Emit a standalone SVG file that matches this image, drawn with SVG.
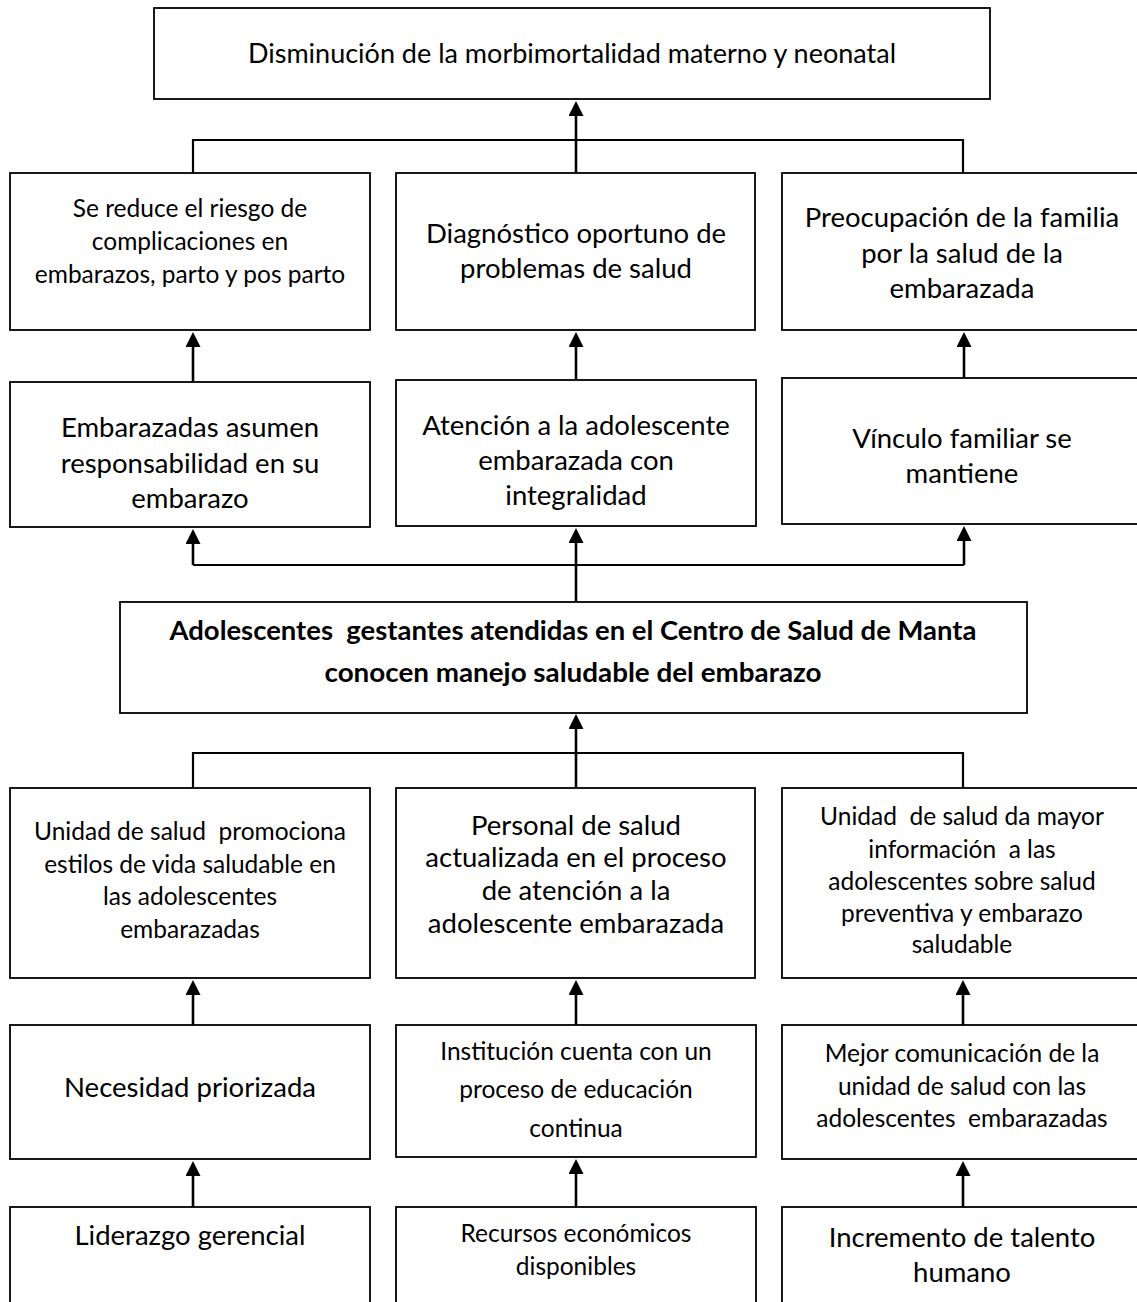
<svg xmlns="http://www.w3.org/2000/svg" width="1137" height="1302" viewBox="0 0 1137 1302">
<style>
.box{fill:#fff;stroke:#000;stroke-width:1.8}
.t{font-family:Lato,"Liberation Sans",sans-serif;fill:#000;text-anchor:middle;white-space:pre}
.s{font-size:24.5px}
.l{font-size:27.5px}
.top{font-size:27px}
.b{font-family:Lato,"Liberation Sans",sans-serif;font-weight:bold;font-size:26px;fill:#000;text-anchor:middle;white-space:pre}
.c{fill:none;stroke:#000;stroke-width:2.2}
.a{fill:none;stroke:#000;stroke-width:2.6;marker-end:url(#ah)}
</style>
<defs>
<marker id="ah" markerUnits="userSpaceOnUse" markerWidth="16" markerHeight="16" refX="0" refY="7.5" orient="auto">
<path d="M0,0 L15,7.5 L0,15 z" fill="#000"/>
</marker>
</defs>
<rect width="1137" height="1302" fill="#fff"/>
<g id="connectors">
<path class="c" d="M193,173 V140 H963 V173"/>
<line class="a" x1="576" y1="173" x2="576" y2="116"/>
<line class="a" x1="193" y1="382" x2="193" y2="347"/>
<line class="a" x1="576" y1="380" x2="576" y2="347"/>
<line class="a" x1="964" y1="378" x2="964" y2="347"/>
<path class="c" d="M193,565 H964"/>
<line class="a" x1="193" y1="565" x2="193" y2="544"/>
<line class="a" x1="964" y1="565" x2="964" y2="541"/>
<line class="a" x1="576" y1="602" x2="576" y2="543"/>
<path class="c" d="M193,788 V753 H963 V788"/>
<line class="a" x1="576" y1="788" x2="576" y2="729"/>
<line class="a" x1="193" y1="1025" x2="193" y2="995"/>
<line class="a" x1="576" y1="1025" x2="576" y2="995"/>
<line class="a" x1="963" y1="1025" x2="963" y2="995"/>
<line class="a" x1="193" y1="1207" x2="193" y2="1176"/>
<line class="a" x1="576" y1="1207" x2="576" y2="1174"/>
<line class="a" x1="963" y1="1207" x2="963" y2="1176"/>
</g>
<g id="n-top">
<rect class="box" x="154" y="8" width="836" height="91"/>
<text class="t top" x="572" y="63">Disminución de la morbimortalidad materno y neonatal</text>
</g>
<g id="n-r1l">
<rect class="box" x="10" y="173" width="360" height="157"/>
<text class="t s" x="190" y="217">Se reduce el riesgo de</text>
<text class="t s" x="190" y="250">complicaciones en</text>
<text class="t s" x="190" y="283">embarazos, parto y pos parto</text>
</g>
<g id="n-r1m">
<rect class="box" x="396" y="173" width="359" height="157"/>
<text class="t l" x="576" y="243">Diagnóstico oportuno de</text>
<text class="t l" x="576" y="278">problemas de salud</text>
</g>
<g id="n-r1r">
<rect class="box" x="782" y="173" width="365" height="157"/>
<text class="t l" x="962" y="227">Preocupación de la familia</text>
<text class="t l" x="962" y="263">por la salud de la</text>
<text class="t l" x="962" y="298">embarazada</text>
</g>
<g id="n-r2l">
<rect class="box" x="10" y="382" width="360" height="145"/>
<text class="t l" x="190" y="437">Embarazadas asumen</text>
<text class="t l" x="190" y="473">responsabilidad en su</text>
<text class="t l" x="190" y="508">embarazo</text>
</g>
<g id="n-r2m">
<rect class="box" x="396" y="380" width="360" height="146"/>
<text class="t l" x="576" y="435">Atención a la adolescente</text>
<text class="t l" x="576" y="470">embarazada con</text>
<text class="t l" x="576" y="505">integralidad</text>
</g>
<g id="n-r2r">
<rect class="box" x="782" y="378" width="365" height="146"/>
<text class="t l" x="962" y="448">Vínculo familiar se</text>
<text class="t l" x="962" y="483">mantiene</text>
</g>
<g id="n-main">
<rect class="box" x="120" y="602" width="907" height="111"/>
<text class="b" x="573" y="640" textLength="807" lengthAdjust="spacingAndGlyphs">Adolescentes  gestantes atendidas en el Centro de Salud de Manta</text>
<text class="b" x="573" y="682" textLength="497" lengthAdjust="spacingAndGlyphs">conocen manejo saludable del embarazo</text>
</g>
<g id="n-r3l">
<rect class="box" x="10" y="788" width="360" height="190"/>
<text class="t s" x="190" y="840">Unidad de salud  promociona</text>
<text class="t s" x="190" y="873">estilos de vida saludable en</text>
<text class="t s" x="190" y="905">las adolescentes</text>
<text class="t s" x="190" y="938">embarazadas</text>
</g>
<g id="n-r3m">
<rect class="box" x="396" y="788" width="359" height="190"/>
<text class="t l" x="576" y="835">Personal de salud</text>
<text class="t l" x="576" y="867">actualizada en el proceso</text>
<text class="t l" x="576" y="900">de atención a la</text>
<text class="t l" x="576" y="933">adolescente embarazada</text>
</g>
<g id="n-r3r">
<rect class="box" x="782" y="788" width="365" height="190"/>
<text class="t s" x="962" y="825">Unidad  de salud da mayor</text>
<text class="t s" x="962" y="858">información  a las</text>
<text class="t s" x="962" y="890">adolescentes sobre salud</text>
<text class="t s" x="962" y="922">preventiva y embarazo</text>
<text class="t s" x="962" y="953">saludable</text>
</g>
<g id="n-r4l">
<rect class="box" x="10" y="1025" width="360" height="134"/>
<text class="t l" x="190" y="1097">Necesidad priorizada</text>
</g>
<g id="n-r4m">
<rect class="box" x="396" y="1025" width="360" height="132"/>
<text class="t s" x="576" y="1060">Institución cuenta con un</text>
<text class="t s" x="576" y="1098">proceso de educación</text>
<text class="t s" x="576" y="1137">continua</text>
</g>
<g id="n-r4r">
<rect class="box" x="782" y="1025" width="365" height="134"/>
<text class="t s" x="962" y="1062">Mejor comunicación de la</text>
<text class="t s" x="962" y="1095">unidad de salud con las</text>
<text class="t s" x="962" y="1127">adolescentes  embarazadas</text>
</g>
<g id="n-r5l">
<rect class="box" x="10" y="1207" width="360" height="110"/>
<text class="t l" x="190" y="1245">Liderazgo gerencial</text>
</g>
<g id="n-r5m">
<rect class="box" x="396" y="1207" width="360" height="110"/>
<text class="t s" x="576" y="1242">Recursos económicos</text>
<text class="t s" x="576" y="1275">disponibles</text>
</g>
<g id="n-r5r">
<rect class="box" x="782" y="1207" width="365" height="110"/>
<text class="t l" x="962" y="1247">Incremento de talento</text>
<text class="t l" x="962" y="1282">humano</text>
</g>
</svg>
